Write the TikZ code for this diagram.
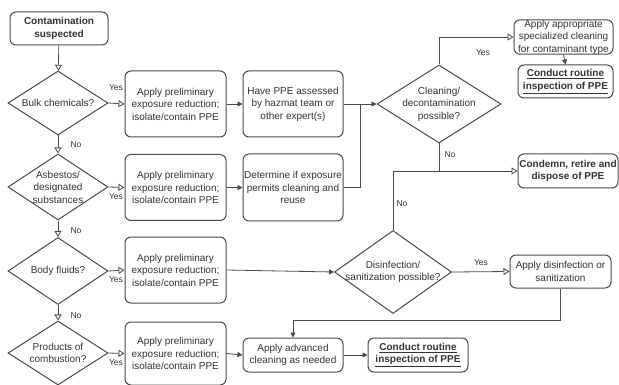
\documentclass[tikz,border=0pt]{standalone}
\usepackage{fontspec}
\setmainfont{Liberation Sans}
\usetikzlibrary{shapes.geometric,arrows.meta}
\definecolor{lc}{HTML}{4A4A4A}
\definecolor{tx}{HTML}{333333}
\begin{document}
\begin{tikzpicture}[x=1pt,y=-1pt,
  box/.style={draw=lc, line width=1pt, rounded corners=6pt, align=center, inner xsep=0pt, inner ysep=0pt, text=tx, font=\fontsize{10}{12.5}\selectfont, minimum width=100pt},
  bbox/.style={box, font=\fontsize{10}{12.5}\selectfont\bfseries},
  dia/.style={draw=lc, line width=1pt, diamond, inner sep=0pt, minimum width=100pt},
  dtxt/.style={text=tx, align=center, inner sep=0pt, font=\fontsize{10}{12.5}\selectfont},
  lab/.style={text=tx, inner sep=0pt, font=\fontsize{8.5}{10}\selectfont},
  ao/.style={draw=lc, line width=0.8pt, -{Triangle[open,length=6pt,width=7pt]}},
  af/.style={draw=lc, line width=0.8pt, -{Triangle[length=5pt,width=5pt]}},
  conn/.style={draw=lc, line width=0.8pt}
]
\useasboundingbox (0,0) rectangle (619,385);

% start
\node[bbox, minimum width=98pt, minimum height=33pt] (start) at (59,28.5) {Contamination\\suspected};

% decision column
\node[dia, minimum height=64pt, label={[dtxt]center:Bulk chemicals?}] (d1) at (58,103) {};
\node[dia, minimum height=66pt, label={[dtxt]center:{Asbestos/\\designated\\substances}}] (d2) at (58,187) {};
\node[dia, minimum height=67pt, label={[dtxt]center:Body fluids?}] (d3) at (58,271) {};
\node[dia, minimum height=64pt, label={[dtxt]center:{Products of\\combustion?}}] (d4) at (58,353) {};

% preliminary boxes
\node[box, minimum width=101pt, minimum height=66pt] (r1) at (175.5,104) {Apply preliminary\\exposure reduction;\\isolate/contain PPE};
\node[box, minimum width=101pt, minimum height=66pt] (r2) at (175.5,187.5) {Apply preliminary\\exposure reduction;\\isolate/contain PPE};
\node[box, minimum width=101pt, minimum height=66pt] (r3) at (175.5,270) {Apply preliminary\\exposure reduction;\\isolate/contain PPE};
\node[box, minimum width=101pt, minimum height=63pt] (r4) at (175.5,353.5) {Apply preliminary\\exposure reduction;\\isolate/contain PPE};

% second column
\node[box, minimum height=66pt] (c1) at (293,104) {Have PPE assessed\\by hazmat team or\\other expert(s)};
\node[box, minimum height=67pt] (c2) at (293,187.5) {Determine if exposure\\permits cleaning and\\reuse};
\node[box, minimum height=34pt] (adv) at (293,355) {Apply advanced\\cleaning as needed};
\node[bbox, minimum height=34pt] (insp2) at (418,355) {\underline{Conduct routine}\\\underline{inspection of PPE}};

% right part
\node[dia, minimum width=124pt, minimum height=78pt, label={[dtxt]center:{Cleaning/\\decontamination\\possible?}}] (dc) at (439,104) {};
\node[box, minimum width=99pt, minimum height=34pt, inner xsep=0pt] (spec) at (563.5,37) {Apply appropriate\\specialized cleaning\\for contaminant type};
\node[bbox, minimum width=95pt, minimum height=33pt] (insp1) at (565.5,81.5) {\underline{Conduct routine}\\\underline{inspection of PPE}};
\node[bbox, minimum width=100pt, minimum height=34pt] (cond) at (568,171) {Condemn, retire and\\dispose of PPE};
\node[dia, minimum width=117pt, minimum height=83pt, label={[dtxt]center:{Disinfection/\\sanitization possible?}}] (dd) at (393,272) {};
\node[box, minimum width=101pt, minimum height=33pt] (dis) at (560.5,271.5) {Apply disinfection or\\sanitization};

% connectors: decision chain
\draw[ao] (start) -- (d1);
\draw[ao] (d1) -- (d2);
\draw[ao] (d2) -- (d3);
\draw[ao] (d3) -- (d4);
\node[lab] (n1) at (76,145) {No};
\node[lab] (n2) at (76,231) {No};
\node[lab] (n3) at (76,316) {No};

\draw[ao] (d1.east) -- (r1.west);
\draw[ao] (d2.east) -- (r2.west);
\draw[ao] (d3.east) -- (r3.west);
\draw[ao] (d4.east) -- (r4.west);
\node[lab] (y1) at (116,88) {Yes};
\node[lab] (y2) at (116,197) {Yes};
\node[lab] (y3) at (116,280) {Yes};
\node[lab] (y4) at (116,363) {Yes};

\draw[af] (r1.east) -- (c1.west);
\draw[af] (r2.east) -- (c2.west);
\draw[af] (r3.east) -- (dd.west);
\draw[af] (r4.east) -- (adv.west);

\coordinate (j1) at (360,104);
\draw[af] (c1.east) -- (dc.west);
\draw[conn] (c2.east) -| (j1);

\draw[ao] (dc.north) |- (spec.west);
\node[lab] (y5) at (483,53) {Yes};
\draw[af] (spec.south) -- (insp1.north);

\draw[ao] (dd.north) |- (cond.west);
\draw[conn] (dc.south) -- (dc.south |- cond.west);
\node[lab] (n4) at (450,155) {No};
\node[lab] (n5) at (402,204) {No};

\draw[ao] (dd.east) -- (dis.west);
\node[lab] (y6) at (481,263) {Yes};
\draw[af] (dis.south) |- ([yshift=17pt]adv.north) -- (adv.north);
\draw[af] (adv.east) -- (insp2.west);
\end{tikzpicture}
\end{document}
